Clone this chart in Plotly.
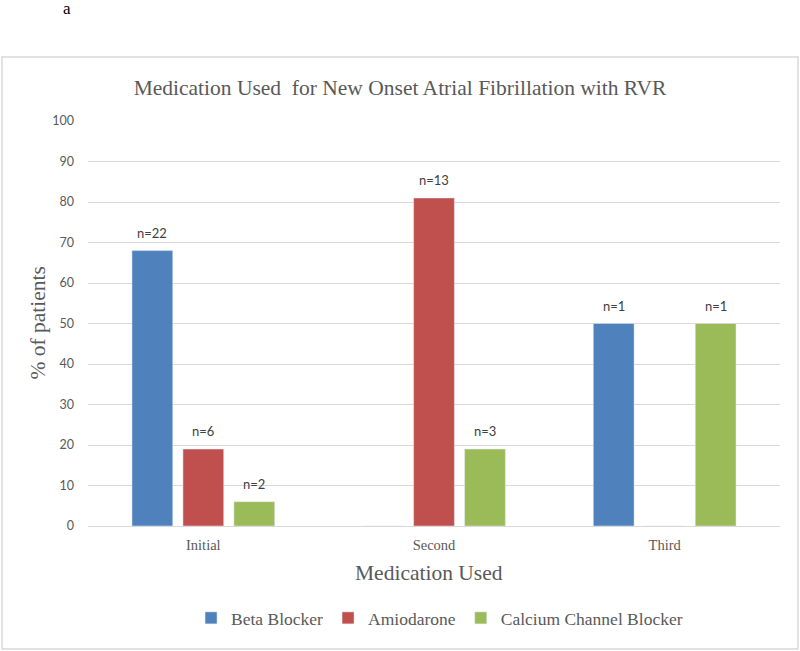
import plotly.graph_objects as go

# Data
stages = ["Initial", "Second", "Third"]
beta_blocker = [68, 0, 50]
amiodarone = [19, 81, 0]
calcium_blocker = [6, 19, 50]
beta_n = ["n=22", "", "n=1"]
amio_n = ["n=6", "n=13", ""]
calcium_n = ["n=2", "n=3", "n=1"]

serif = "Liberation Serif, Times New Roman, serif"
sans = "Lato, Carlito, Calibri, sans-serif"
grey = "#595959"

series = [
    ("Beta Blocker", beta_blocker, beta_n, "#4F81BD"),
    ("Amiodarone", amiodarone, amio_n, "#C0504D"),
    ("Calcium Channel Blocker", calcium_blocker, calcium_n, "#9BBB59"),
]

fig = go.Figure()
for name, vals, labels, color in series:
    fig.add_trace(go.Bar(x=stages, y=vals, name=name, marker_color=color))

fig.update_layout(
    width=800, height=651,
    margin=dict(l=88, r=20, t=121, b=125),
    plot_bgcolor="white", paper_bgcolor="white",
    barmode="group", bargap=0.337, bargroupgap=0.2,
    title=dict(text="Medication Used  for New Onset Atrial Fibrillation with RVR",
               x=0.5, xanchor="center", y=1 - 87 / 651, yanchor="middle",
               font=dict(family=serif, size=21.5, color=grey)),
    showlegend=True,
    legend=dict(orientation="h", x=0.508, xanchor="center", y=(526 - 618) / 405,
                yanchor="middle", font=dict(family=serif, size=17.5, color=grey),
                itemwidth=30),
)
fig.update_yaxes(range=[0, 100], dtick=10, showgrid=True, gridcolor="#d9d9d9",
                 zeroline=False, showline=False, ticks="", ticklabelstandoff=13,
                 tickfont=dict(family=sans, size=12.5, color=grey))
fig.update_xaxes(showline=True, linecolor="#d9d9d9", linewidth=1, ticks="",
                 ticklabelstandoff=6,
                 tickfont=dict(family=serif, size=14.5, color=grey))

# n= labels above bars (offset to each bar of the group)
for i, (name, vals, labels, color) in enumerate(series):
    for stage, v, lab in zip(stages, vals, labels):
        if lab:
            fig.add_annotation(x=stage, y=v, text=lab, showarrow=False,
                               xshift=(i - 1) * 51, yshift=8, yanchor="bottom",
                               font=dict(family=sans, size=13, color="#404040"))

# axis titles
fig.add_annotation(text="% of patients", xref="paper", yref="paper",
                   x=(37 - 88) / 692, y=0.5, textangle=-90, showarrow=False,
                   xanchor="center", yanchor="middle",
                   font=dict(family=serif, size=21.5, color=grey))
fig.add_annotation(text="Medication Used", xref="paper", yref="paper",
                   x=(429 - 88) / 692, y=(526 - 573) / 405, showarrow=False,
                   xanchor="center", yanchor="middle",
                   font=dict(family=serif, size=21.5, color=grey))
# panel letter
fig.add_annotation(text="a", xref="paper", yref="paper",
                   x=(67 - 88) / 692, y=(526 - 8) / 405, showarrow=False,
                   xanchor="center", yanchor="middle",
                   font=dict(family=serif, size=17, color="black"))
# outer frame
fig.add_shape(type="rect", xref="paper", yref="paper",
              x0=(2 - 88) / 692, x1=(798 - 88) / 692,
              y0=(526 - 649) / 405, y1=(526 - 57) / 405,
              line=dict(color="#d9d9d9", width=1.5), layer="below")

fig.write_html("out.html", config={"displayModeBar": False},
               post_script="document.body.style.margin='0';")
